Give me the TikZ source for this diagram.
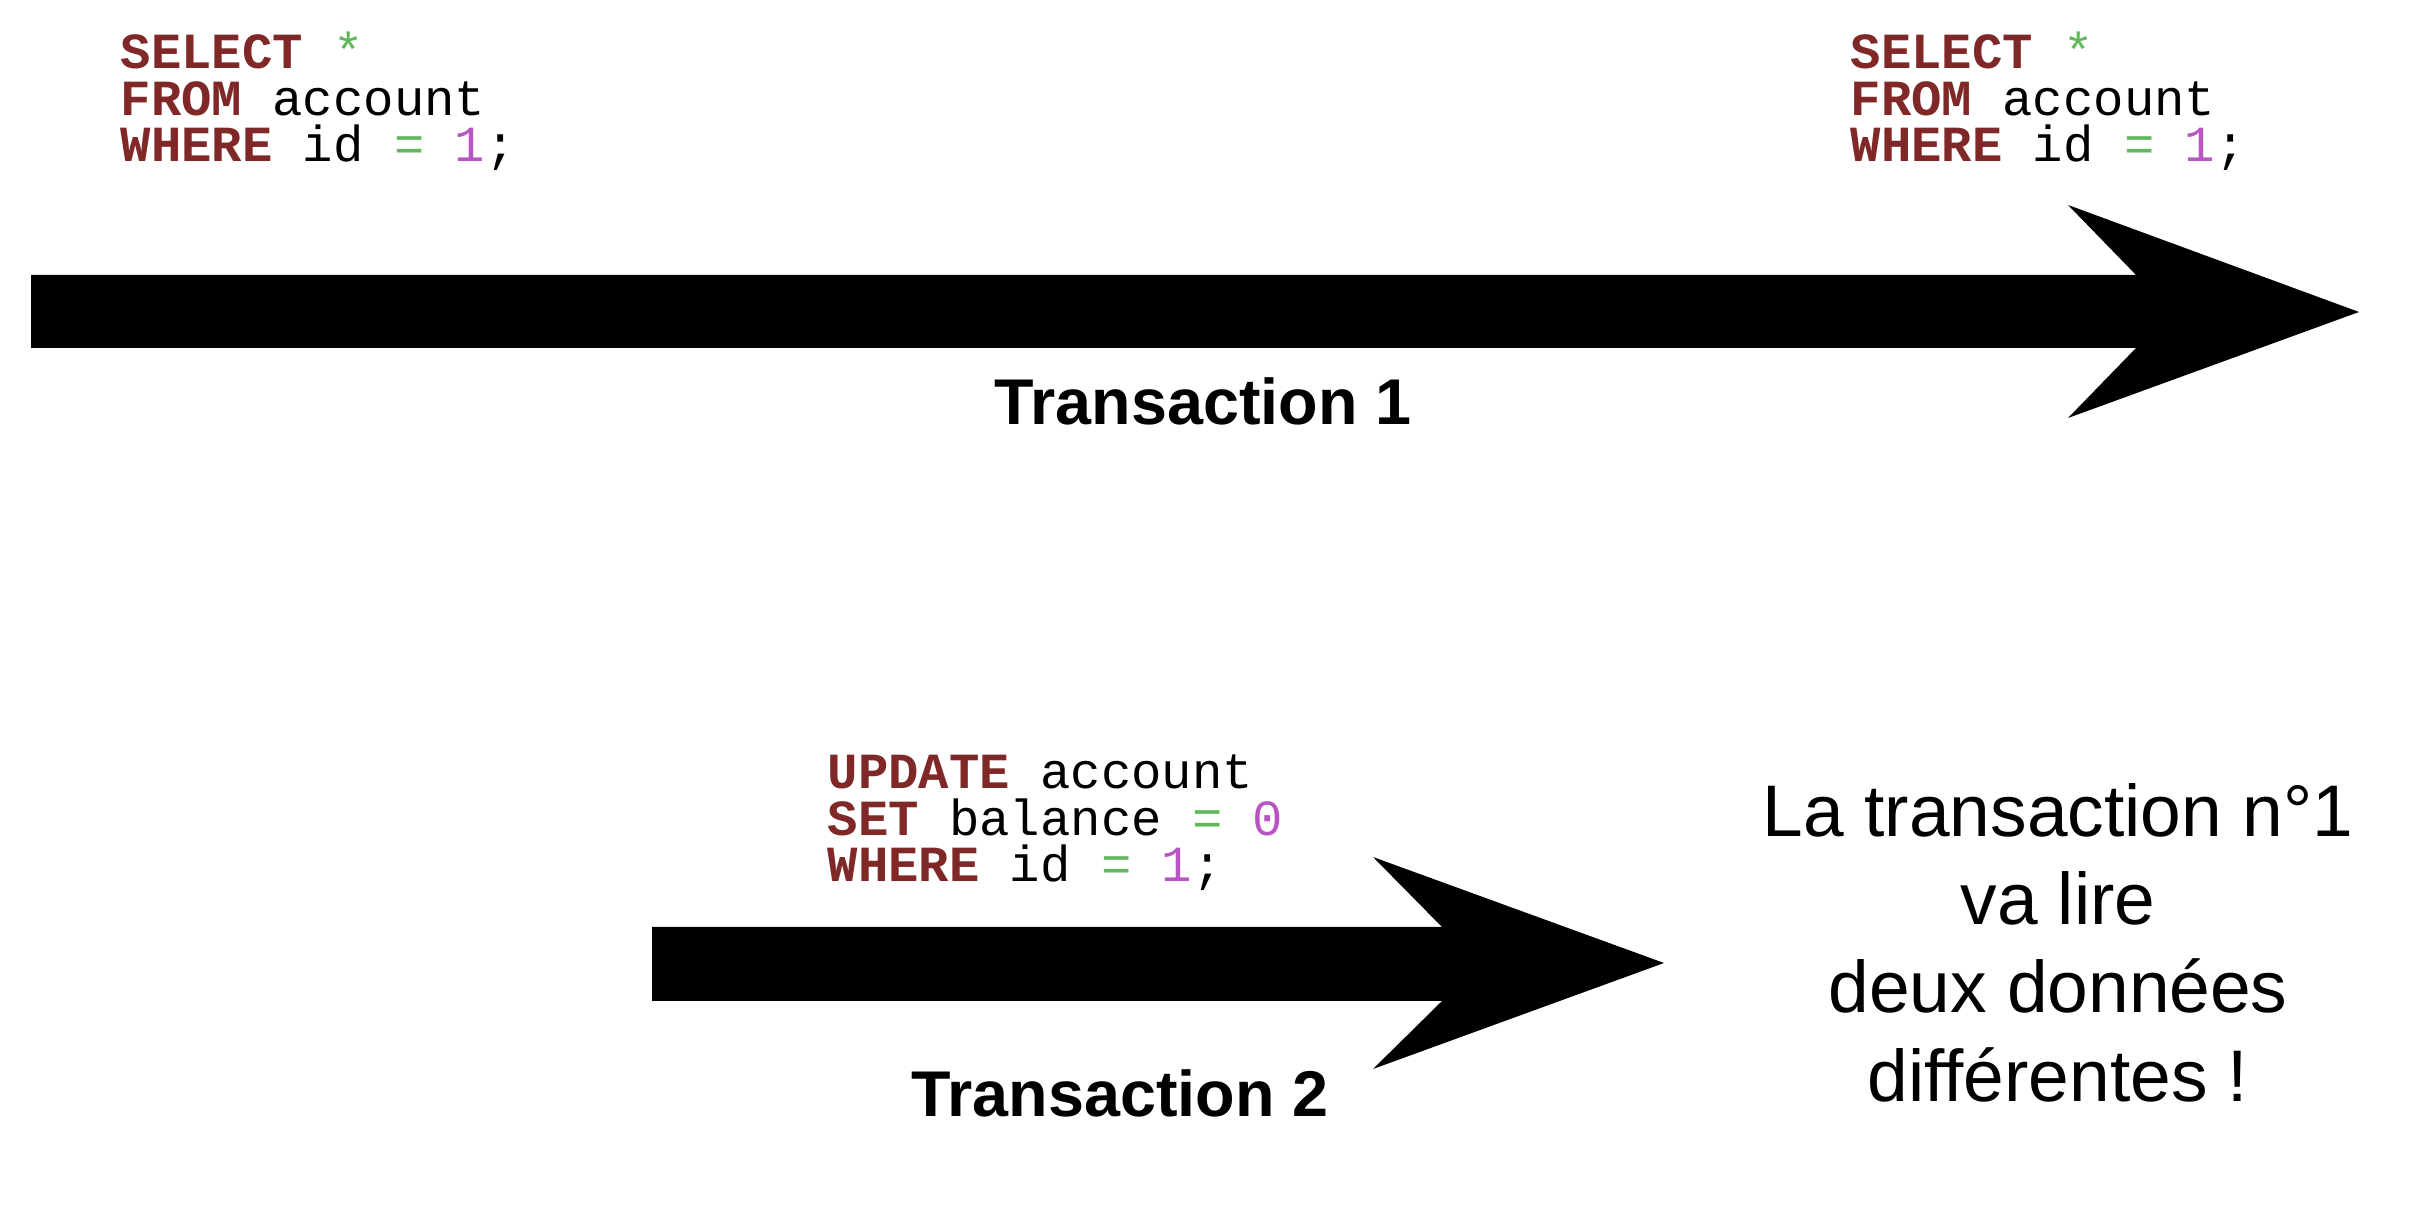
\documentclass[tikz,border=0pt]{standalone}
\usepackage{fontspec}
\setsansfont{Liberation Sans}
\setmonofont{Liberation Mono}
\usepackage{tikz}
\usetikzlibrary{positioning}
\definecolor{sqlkw}{RGB}{128,40,40}
\definecolor{sqlop}{RGB}{95,185,90}
\definecolor{sqlnum}{RGB}{185,85,195}
\newcommand{\sqlkey}[1]{\textcolor{sqlkw}{\bfseries #1}}
\newcommand{\sqlop}[1]{\textcolor{sqlop}{#1}}
\newcommand{\sqlval}[1]{\textcolor{sqlnum}{#1}}
\tikzset{
  codeline/.style={anchor=base west, inner sep=0pt, font=\ttfamily\fontsize{14.4}{14.4}\selectfont},
  txname/.style={anchor=base, inner sep=0pt, font=\sffamily\bfseries\fontsize{18.4}{18.4}\selectfont},
  noteline/.style={anchor=base, inner sep=0pt, font=\sffamily\fontsize{20.8}{20.8}\selectfont}
}

\begin{document}
\begin{tikzpicture}
      \useasboundingbox (0, 0) rectangle (24.14, 12.04);

      % transaction 1
      \fill (0.31, 9.29) -- (21.36, 9.29) -- (20.68, 9.99) -- (23.59, 8.92) -- (20.68, 7.86) -- (21.36, 8.56) -- (0.31, 8.56) -- cycle;
      \node[txname] (tx1) at (12.03, 7.79) {Transaction 1};

      \node[codeline] (sel1) at (1.20, 11.35) {\sqlkey{SELECT} \sqlop{*}};
      \node[codeline] (from1) at (1.20, 10.885) {\sqlkey{FROM} account};
      \node[codeline] (where1) at (1.20, 10.42) {\sqlkey{WHERE} id \sqlop{=} \sqlval{1};};

      \node[codeline] (sel2) at (18.50, 11.35) {\sqlkey{SELECT} \sqlop{*}};
      \node[codeline] (from2) at (18.50, 10.885) {\sqlkey{FROM} account};
      \node[codeline] (where2) at (18.50, 10.42) {\sqlkey{WHERE} id \sqlop{=} \sqlval{1};};

      % transaction 2
      \fill (6.52, 2.77) -- (14.42, 2.77) -- (13.73, 3.47) -- (16.64, 2.41) -- (13.73, 1.35) -- (14.42, 2.03) -- (6.52, 2.03) -- cycle;
      \node[txname] (tx2) at (11.20, 0.87) {Transaction 2};

      \node[codeline] (upd) at (8.27, 4.15) {\sqlkey{UPDATE} account};
      \node[codeline] (set) at (8.27, 3.685) {\sqlkey{SET} balance \sqlop{=} \sqlval{0}};
      \node[codeline] (where3) at (8.27, 3.22) {\sqlkey{WHERE} id \sqlop{=} \sqlval{1};};

      % conclusion
      \node[noteline] (note1) at (20.58, 3.67) {La transaction n°1};
      \node[noteline] (note2) at (20.58, 2.79) {va lire};
      \node[noteline] (note3) at (20.58, 1.91) {deux données};
      \node[noteline] (note4) at (20.58, 1.02) {différentes !};
\end{tikzpicture}
\end{document}
